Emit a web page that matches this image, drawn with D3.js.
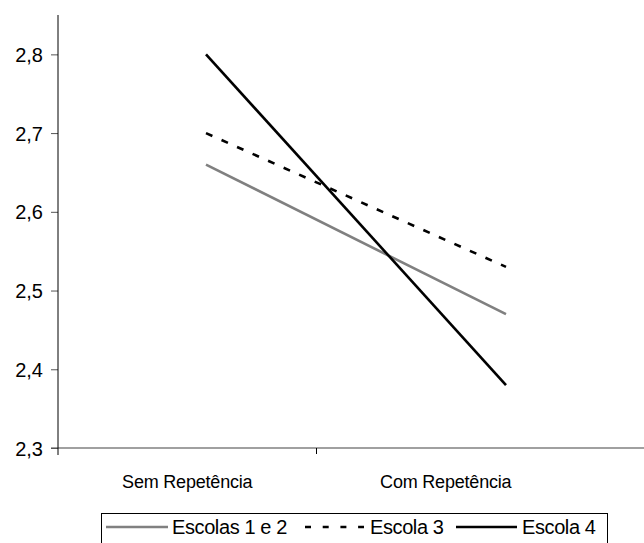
<!DOCTYPE html>
<html><head><meta charset="utf-8">
<script src="https://cdn.jsdelivr.net/npm/d3@7"></script>
<style>body{margin:0;background:#fff}svg{display:block;font-family:"Liberation Sans",Arial,sans-serif}</style>
</head><body>
<script>
const categories = ["Sem Repetência", "Com Repetência"];
const seriesNames = ["Escolas 1 e 2", "Escola 3", "Escola 4"];
const escolas12 = [2.66, 2.47];
const escola3 = [2.70, 2.53];
const escola4 = [2.80, 2.38];
const yTicks = [2.3, 2.4, 2.5, 2.6, 2.7, 2.8];

const W = 644, H = 543;
const svg = d3.select("body").append("svg").attr("width", W).attr("height", H);

const y = d3.scaleLinear().domain([2.3, 2.85]).range([448, 15]);
const xBand = d3.scaleBand().domain(categories).range([58, 575]);
const xLine = d3.scalePoint().domain(categories).range([206, 506]);
const fmt = d => d3.format(".1f")(d).replace(".", ",");

// x axis baseline (gray)
svg.append("line").attr("x1", 51).attr("x2", W).attr("y1", y(2.3)).attr("y2", y(2.3))
  .attr("stroke", "#808080").attr("stroke-width", 1.5);
// x category tick
svg.append("line").attr("x1", xBand(categories[1])).attr("x2", xBand(categories[1]))
  .attr("y1", y(2.3)).attr("y2", y(2.3) + 6).attr("stroke", "#000").attr("stroke-width", 1);

// y axis
const yAxis = d3.axisLeft(y).tickValues(yTicks).tickFormat(fmt).tickSize(7).tickPadding(8);
const ga = svg.append("g").attr("transform", "translate(58,0)").call(yAxis);
ga.select(".domain").remove();
ga.selectAll(".tick line").attr("stroke", "#555");
ga.selectAll(".tick text").attr("font-size", 20).attr("fill", "#000")
  .attr("font-family", '"Liberation Sans",Arial,sans-serif').attr("dy", "0.35em")
  .attr("x", -15);
svg.append("line").attr("x1", 58).attr("x2", 58).attr("y1", 15).attr("y2", y(2.3) + 7)
  .attr("stroke", "#000").attr("stroke-width", 1);

// category labels
svg.selectAll("text.cat").data(categories).enter().append("text")
  .attr("class", "cat").attr("x", d => xBand(d) + xBand.bandwidth() / 2).attr("y", 488)
  .attr("text-anchor", "middle").attr("font-size", 18).attr("letter-spacing", "-0.2px").text(d => d);

const series = [
  {name: seriesNames[0], values: escolas12, color: "#808080", dash: null},
  {name: seriesNames[1], values: escola3, color: "#000", dash: "7,10"},
  {name: seriesNames[2], values: escola4, color: "#000", dash: null}
];
const line = d3.line().x((d, i) => xLine(categories[i])).y(d => y(d));
series.forEach(s => {
  svg.append("path").datum(s.values).attr("d", line).attr("fill", "none")
    .attr("stroke", s.color).attr("stroke-width", 2.6)
    .attr("stroke-dasharray", s.dash);
});

// legend
svg.append("rect").attr("x", 101.5).attr("y", 513.5).attr("width", 506).attr("height", 40)
  .attr("fill", "none").attr("stroke", "#000").attr("stroke-width", 1);
const legPos = [{lx1: 106, lx2: 168, tx: 172}, {lx1: 305, lx2: 364, tx: 370}, {lx1: 456, lx2: 517, tx: 522}];
series.forEach((s, i) => {
  const p = legPos[i];
  svg.append("line").attr("x1", p.lx1).attr("x2", p.lx2).attr("y1", 527).attr("y2", 527)
    .attr("stroke", s.color).attr("stroke-width", 2.6).attr("stroke-dasharray", s.dash ? "6,11.7" : null);
  svg.append("text").attr("x", p.tx).attr("y", 534).attr("font-size", 20)
    .attr("letter-spacing", "-0.4px").text(s.name);
});
</script>
</body></html>
